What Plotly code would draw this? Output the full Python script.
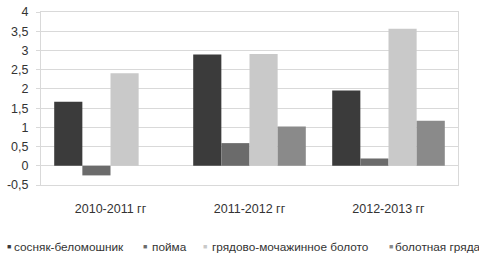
import plotly.graph_objects as go

categories = ["2010-2011 гг", "2011-2012 гг", "2012-2013 гг"]
series_names = ["сосняк-беломошник", "пойма", "грядово-мочажинное болото", "болотная гряда"]
sosnyak = [1.67, 2.9, 1.96]
poyma = [-0.25, 0.59, 0.19]
gryadovo = [2.41, 2.91, 3.57]
bolotnaya = [0, 1.02, 1.17]
colors = ["#3b3b3b", "#6b6b6b", "#c9c9c9", "#8a8a8a"]
tick_vals = [-0.5, 0, 0.5, 1, 1.5, 2, 2.5, 3, 3.5, 4]
tick_text = ["-0,5", "0", "0,5", "1", "1,5", "2", "2,5", "3", "3,5", "4"]

fig = go.Figure()
for name, vals, c in zip(series_names, [sosnyak, poyma, gryadovo, bolotnaya], colors):
    fig.add_trace(go.Bar(x=categories, y=vals, name=name, marker_color=c,
                         marker_line_width=0, showlegend=False))

font = dict(family="Liberation Sans, Arial, sans-serif", size=12.5, color="#333333")
L, R, T, B, W, H = 41, 21, 5, 76, 479, 261
fig.update_layout(
    width=W, height=H,
    margin=dict(l=L, r=R, t=T, b=B),
    paper_bgcolor="white", plot_bgcolor="white",
    barmode="group", bargap=0.19, bargroupgap=0,
    font=font,
    xaxis=dict(showline=True, linecolor="#d9d9d9", mirror=True, showgrid=False,
               ticks="", tickfont=font, ticklabelstandoff=12),
    yaxis=dict(range=[-0.5, 4.003], tickvals=tick_vals, ticktext=tick_text,
               showgrid=True, gridcolor="#d9d9d9", gridwidth=1,
               zeroline=True, zerolinecolor="#d9d9d9", zerolinewidth=1,
               showline=True, linecolor="#d9d9d9", mirror=True,
               ticks="outside", ticklen=4, tickcolor="#d9d9d9",
               tickfont=font, ticklabelstandoff=5, ticklabeloverflow="allow"),
)

pw = W - L - R
ph = H - T - B
def px(x):
    return (x - L) / pw
def py(y):
    return (H - B - y) / ph

marker_x = [9, 145, 205, 391]
text_x = [12, 150, 210, 393]
for name, c, mx, tx in zip(series_names, colors, marker_x, text_x):
    fig.add_annotation(text="■", x=px(mx), y=py(249), xref="paper", yref="paper",
                       showarrow=False, xanchor="center", yanchor="middle",
                       font=dict(family=font["family"], size=7, color=c))
    fig.add_annotation(text=name, x=px(tx), y=py(249), xref="paper", yref="paper",
                       showarrow=False, xanchor="left", yanchor="middle",
                       font=dict(family=font["family"], size=11.8, color="#333333"))

fig.write_html("out.html", config={"displayModeBar": False},
               post_script="document.body.style.margin='0';")
